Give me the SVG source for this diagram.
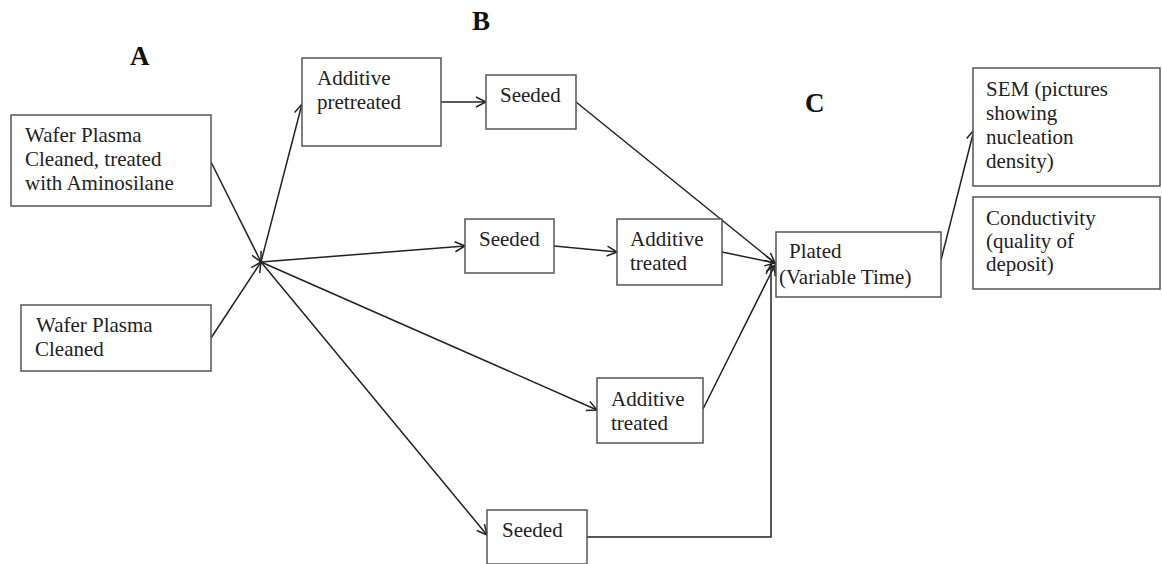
<svg xmlns="http://www.w3.org/2000/svg" width="1162" height="564" viewBox="0 0 1162 564">
<style>
.box{fill:#fff;stroke:#555;stroke-width:1.5}
.t{font-family:"Liberation Serif","Times New Roman",serif;font-size:21px;fill:#222}
.lbl{font-family:"Liberation Serif","Times New Roman",serif;font-size:27px;font-weight:bold;fill:#111}
.c{fill:none;stroke:#222;stroke-width:1.5}
</style>
<defs>
<marker id="ah" viewBox="0 0 12 12" refX="11" refY="6" markerWidth="12" markerHeight="12" markerUnits="userSpaceOnUse" orient="auto">
<path d="M1,1 L11,6 L1,11" fill="none" stroke="#222" stroke-width="1.5"/>
</marker>
</defs>
<rect width="1162" height="564" fill="#fff"/>
<text class="lbl" x="130" y="65">A</text>
<text class="lbl" x="472" y="30">B</text>
<text class="lbl" x="805" y="112">C</text>
<g id="connectors">
<line class="c" x1="211" y1="162" x2="261" y2="262" marker-end="url(#ah)"/>
<line class="c" x1="211" y1="338" x2="261" y2="262" marker-end="url(#ah)"/>
<line class="c" x1="261" y1="262" x2="302" y2="104" marker-end="url(#ah)"/>
<line class="c" x1="261" y1="262" x2="465" y2="246" marker-end="url(#ah)"/>
<line class="c" x1="261" y1="262" x2="597" y2="410" marker-end="url(#ah)"/>
<line class="c" x1="261" y1="262" x2="487" y2="535" marker-end="url(#ah)"/>
<line class="c" x1="441" y1="102" x2="486" y2="102" marker-end="url(#ah)"/>
<line class="c" x1="554" y1="246" x2="617" y2="252" marker-end="url(#ah)"/>
<line class="c" x1="576" y1="102" x2="775" y2="263" marker-end="url(#ah)"/>
<line class="c" x1="722" y1="252" x2="775" y2="263" marker-end="url(#ah)"/>
<line class="c" x1="703" y1="409" x2="775" y2="265" marker-end="url(#ah)"/>
<polyline class="c" points="587,537 771,537 771,264" marker-end="url(#ah)"/>
<line class="c" x1="941" y1="260" x2="974" y2="130" marker-end="url(#ah)"/>
</g>
<g id="n1"><rect class="box" x="11" y="115" width="200" height="91"/>
<text class="t" x="25" y="142">Wafer Plasma</text><text class="t" x="25" y="166">Cleaned, treated</text><text class="t" x="25" y="190">with Aminosilane</text></g>
<g id="n2"><rect class="box" x="21" y="305" width="190" height="66"/>
<text class="t" x="36" y="332">Wafer Plasma</text><text class="t" x="35" y="356">Cleaned</text></g>
<g id="n3"><rect class="box" x="302" y="58" width="139" height="88"/>
<text class="t" x="317" y="85">Additive</text><text class="t" x="317" y="109">pretreated</text></g>
<g id="n4"><rect class="box" x="486" y="75" width="90" height="54"/>
<text class="t" x="500" y="102">Seeded</text></g>
<g id="n5"><rect class="box" x="465" y="219" width="89" height="54"/>
<text class="t" x="479" y="246">Seeded</text></g>
<g id="n6"><rect class="box" x="617" y="219" width="105" height="66"/>
<text class="t" x="630" y="246">Additive</text><text class="t" x="630" y="270">treated</text></g>
<g id="n7"><rect class="box" x="597" y="378" width="106" height="65"/>
<text class="t" x="611" y="406">Additive</text><text class="t" x="611" y="430">treated</text></g>
<g id="n8"><rect class="box" x="487" y="510" width="100" height="54"/>
<text class="t" x="502" y="537">Seeded</text></g>
<g id="n9"><rect class="box" x="776" y="232" width="165" height="65"/>
<text class="t" x="789" y="258">Plated</text><text class="t" x="779" y="284">(Variable Time)</text></g>
<g id="n10"><rect class="box" x="973" y="68" width="187" height="118"/>
<text class="t" x="986" y="96">SEM (pictures</text><text class="t" x="986" y="120">showing</text><text class="t" x="986" y="144">nucleation</text><text class="t" x="986" y="168">density)</text></g>
<g id="n11"><rect class="box" x="973" y="197" width="187" height="92"/>
<text class="t" x="986" y="225">Conductivity</text><text class="t" x="986" y="248">(quality of</text><text class="t" x="986" y="271">deposit)</text></g>
</svg>
